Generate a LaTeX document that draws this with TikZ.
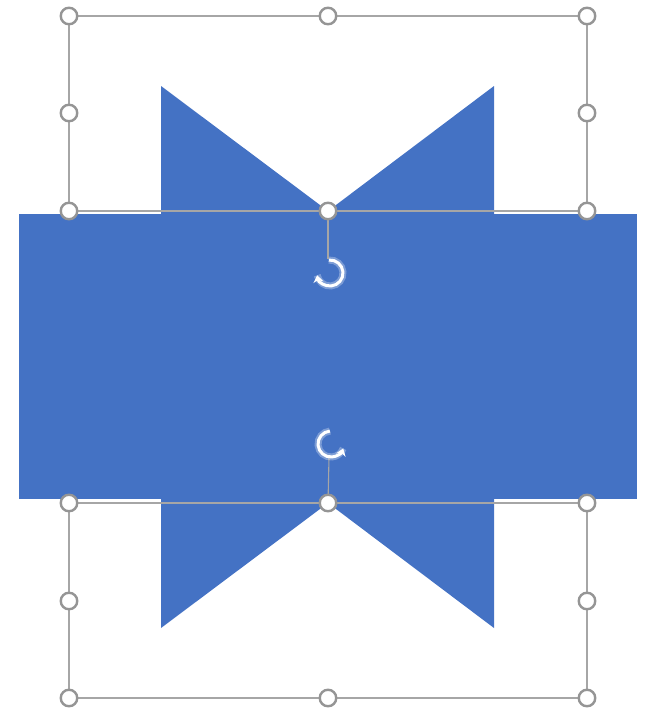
\documentclass[tikz,border=0pt]{standalone}
\usetikzlibrary{arrows.meta}
\definecolor{shapeblue}{HTML}{4472C4}
\definecolor{boxgray}{HTML}{A6A6A6}
\definecolor{handlegray}{HTML}{959595}
\begin{document}
\begin{tikzpicture}[x=1pt,y=-1pt,
  handle/.style={circle,draw=handlegray,fill=white,line width=2.4pt,minimum size=16.5pt,inner sep=0pt},
  boxline/.style={draw=boxgray,line width=1.5pt},
  rotglow/.style={draw=white,line width=7pt,opacity=0.3},
  rotarc/.style={draw=white,line width=3pt,-{Stealth[length=7pt,width=10pt]}}]
\useasboundingbox (0,0) rectangle (654,712);
% shapes
\fill[shapeblue] (19,214) rectangle (637,499);
\fill[shapeblue] (161,86) -- (328,211) -- (494,86) -- (494,215) -- (161,215) -- cycle;
\fill[shapeblue] (161,498) -- (494,498) -- (494,628) -- (328,503) -- (161,628) -- cycle;
% selection box positions
\coordinate (t1) at (69,16);  \coordinate (t2) at (328,16);  \coordinate (t3) at (587,16);
\coordinate (t4) at (69,113); \coordinate (t6) at (587,113);
\coordinate (t7) at (69,211); \coordinate (t8) at (328,211); \coordinate (t9) at (587,211);
\coordinate (b1) at (69,503); \coordinate (b2) at (328,503); \coordinate (b3) at (587,503);
\coordinate (b4) at (69,601); \coordinate (b6) at (587,601);
\coordinate (b7) at (69,698); \coordinate (b8) at (328,698); \coordinate (b9) at (587,698);
\coordinate (rt) at (330,273);
\coordinate (rb) at (331,444);
% box lines
\draw[boxline] (t1) -- (t3) -- (t9) -- (t7) -- cycle;
\draw[boxline] (b1) -- (b3) -- (b9) -- (b7) -- cycle;
\draw[boxline,line width=1.1pt] (t8) -- (328,259);
\draw[boxline,line width=1.1pt] (b2) -- (329,458);
% rotation icons
\draw[rotglow] ([shift={(-95:13)}]rt) arc[start angle=-95,end angle=170,radius=13];
\draw[rotarc] ([shift={(-95:13)}]rt) arc[start angle=-95,end angle=170,radius=13];
\draw[rotglow] ([shift={(-95:13)}]rb) arc[start angle=-95,end angle=-340,radius=13];
\draw[rotarc] ([shift={(-95:13)}]rb) arc[start angle=-95,end angle=-340,radius=13];
% handles
\foreach \h in {t1,t2,t3,t4,t6,t7,t8,t9,b1,b2,b3,b4,b6,b7,b8,b9}
  \node[handle] (h\h) at (\h) {};
\end{tikzpicture}
\end{document}
